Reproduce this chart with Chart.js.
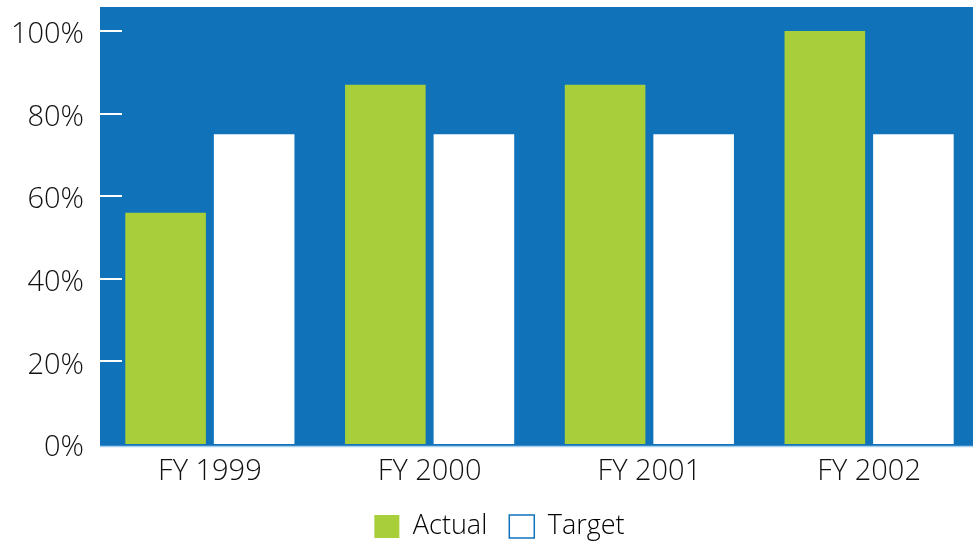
<!DOCTYPE html>
<html>
<head>
<meta charset="utf-8">
<script src="https://cdn.jsdelivr.net/npm/chart.js@4/dist/chart.umd.min.js"></script>
<style>
  html, body { margin: 0; padding: 0; background: #fff; overflow: hidden; }
  #wrap { width: 973px; height: 542px; overflow: hidden; }
</style>
</head>
<body>
<div id="wrap"><canvas id="chart" width="979" height="561"></canvas></div>
<script>
const years = ["FY 1999", "FY 2000", "FY 2001", "FY 2002"];
const actual = [56, 87, 87, 100];
const target = [75, 75, 75, 75];
const yTicks = [0, 20, 40, 60, 80, 100];

const BLUE = "#1073BA";
const GREEN = "#A8CE3A";

// blue panel behind the bars, white inner tick marks, light baseline
const panel = {
  id: "panel",
  afterLayout(chart) {
    // nudge the legend row a little to the right
    chart.legend.left += 10;
    chart.legend.right += 10;
  },
  beforeDraw(chart) {
    const { ctx, chartArea: a } = chart;
    ctx.save();
    ctx.fillStyle = BLUE;
    ctx.fillRect(a.left, a.top - 24, a.right - a.left, a.bottom - a.top + 26);
    ctx.restore();
  },
  afterDatasetsDraw(chart) {
    const { ctx, chartArea: a, scales } = chart;
    ctx.save();
    ctx.strokeStyle = "#ffffff";
    ctx.lineWidth = 2;
    yTicks.forEach(v => {
      if (v === 0) return;
      const y = Math.round(scales.y.getPixelForValue(v));
      ctx.beginPath();
      ctx.moveTo(a.left, y);
      ctx.lineTo(a.left + 22, y);
      ctx.stroke();
    });
    ctx.strokeStyle = "#A9CFEE";
    ctx.lineWidth = 1.5;
    ctx.beginPath();
    ctx.moveTo(a.left, a.bottom + 2.5);
    ctx.lineTo(a.right, a.bottom + 2.5);
    ctx.stroke();
    ctx.restore();
  }
};

Chart.defaults.font.family = "'Open Sans', 'Noto Sans', sans-serif";
Chart.defaults.font.weight = "350";
Chart.defaults.color = "#111";

new Chart(document.getElementById("chart"), {
  type: "bar",
  data: {
    labels: years,
    datasets: [
      {
        label: "Actual",
        data: actual,
        backgroundColor: GREEN,
        borderWidth: 0
      },
      {
        label: "Target",
        data: target,
        backgroundColor: "#ffffff",
        borderColor: BLUE,
        borderWidth: 0
      }
    ]
  },
  options: {
    responsive: false,
    animation: false,
    layout: { padding: { top: 31, right: 0, left: 0, bottom: 11 } },
    datasets: {
      bar: { categoryPercentage: 0.806, barPercentage: 0.91 }
    },
    scales: {
      x: {
        afterFit(scale) { scale.height = 47; },
        grid: { display: false },
        border: { display: false },
        ticks: { font: { size: 29 }, padding: 2, color: "#111" }
      },
      y: {
        min: 0,
        max: 100,
        afterFit(scale) {
          scale.width = 100;
          scale.paddingTop = 0;
          scale.paddingBottom = 0;
        },
        afterBuildTicks(scale) { scale.ticks = yTicks.map(v => ({ value: v })); },
        grid: { display: false, drawTicks: false },
        border: { display: false },
        ticks: {
          font: { size: 29 },
          padding: 16,
          labelOffset: 4,
          color: "#111",
          callback: v => v + "%"
        }
      }
    },
    plugins: {
      tooltip: { enabled: false },
      legend: {
        position: "bottom",
        labels: {
          font: { size: 27 },
          color: "#111",
          boxWidth: 25,
          boxHeight: 23,
          padding: 22,
          generateLabels(chart) {
            return chart.data.datasets.map((ds, i) => ({
              text: ds.label,
              fillStyle: ds.backgroundColor,
              strokeStyle: i === 1 ? BLUE : ds.backgroundColor,
              lineWidth: i === 1 ? 1.5 : 0,
              datasetIndex: i,
              hidden: false
            }));
          }
        }
      }
    }
  },
  plugins: [panel]
});
</script>
</body>
</html>
